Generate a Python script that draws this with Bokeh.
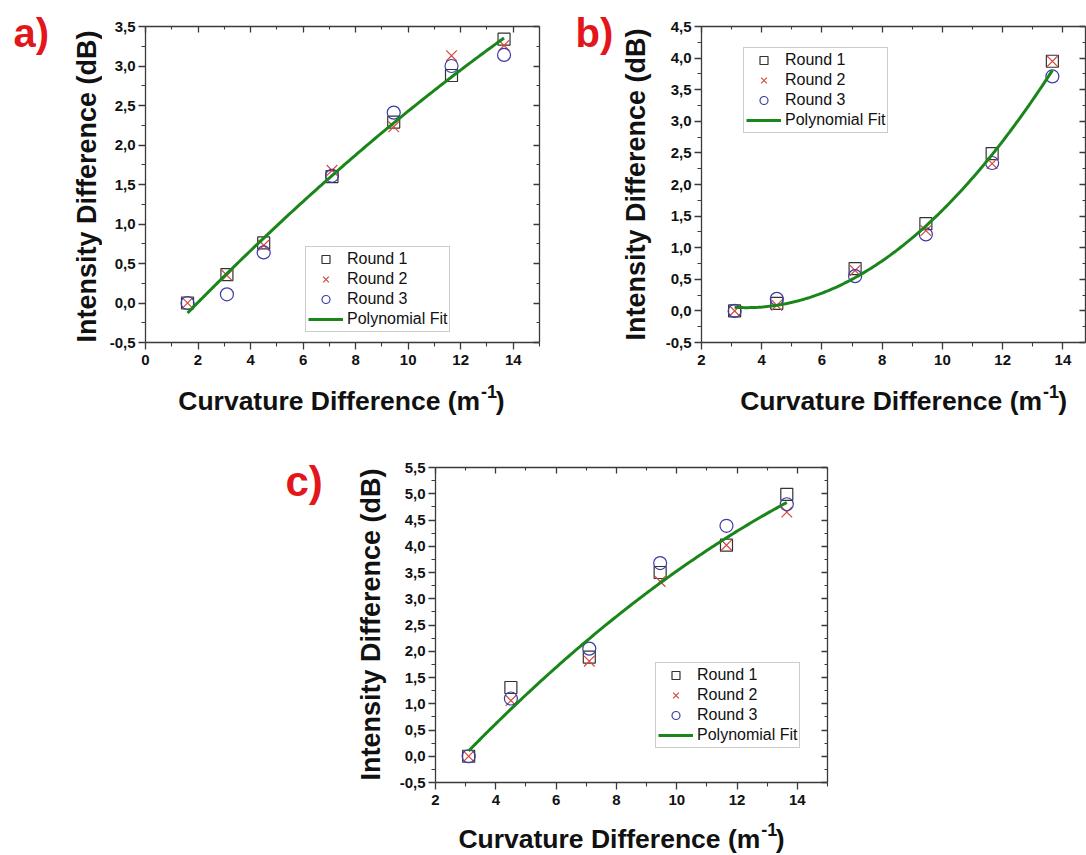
import numpy as np
from bokeh.plotting import figure
from bokeh.models import FixedTicker, LinearAxis, Label, Range1d, Spacer
from bokeh.layouts import column, row
from bokeh.embed import file_html
from bokeh.resources import INLINE

# ---------------- data ----------------
curv_a = [1.6, 3.1, 4.5, 7.1, 9.45, 11.65, 13.65]
a_round1 = [0.0, 0.36, 0.76, 1.60, 2.29, 2.88, 3.34]
a_round2 = [0.0, 0.35, 0.73, 1.68, 2.23, 3.13, 3.26]
a_round3 = [0.0, 0.11, 0.64, 1.61, 2.41, 3.00, 3.14]

curv_bc = [3.1, 4.5, 7.1, 9.45, 11.65, 13.65]
b_round1 = [0.0, 0.12, 0.67, 1.38, 2.49, 3.95]
b_round2 = [0.0, 0.09, 0.64, 1.27, 2.33, 3.95]
b_round3 = [0.0, 0.19, 0.55, 1.21, 2.34, 3.71]

c_round1 = [0.0, 1.31, 1.89, 3.50, 4.02, 4.99]
c_round2 = [0.0, 1.06, 1.81, 3.33, 4.02, 4.65]
c_round3 = [0.0, 1.10, 2.05, 3.68, 4.39, 4.80]

series_names = ["Round 1", "Round 2", "Round 3"]
fit_name = "Polynomial Fit"

xa_ticks = [0, 2, 4, 6, 8, 10, 12, 14]
xa_minor = [1, 3, 5, 7, 9, 11, 13, 15]
xbc_ticks = [2, 4, 6, 8, 10, 12, 14]
xbc_minor = [3, 5, 7, 9, 11, 13, 15]

ya_ticks = [-0.5, 0.0, 0.5, 1.0, 1.5, 2.0, 2.5, 3.0, 3.5]
ya_labels = ["-0,5", "0,0", "0,5", "1,0", "1,5", "2,0", "2,5", "3,0", "3,5"]
yb_ticks = [-0.5, 0.0, 0.5, 1.0, 1.5, 2.0, 2.5, 3.0, 3.5, 4.0, 4.5]
yb_labels = ["-0,5", "0,0", "0,5", "1,0", "1,5", "2,0", "2,5", "3,0", "3,5", "4,0", "4,5"]
yc_ticks = [-0.5, 0.0, 0.5, 1.0, 1.5, 2.0, 2.5, 3.0, 3.5, 4.0, 4.5, 5.0, 5.5]
yc_labels = ["-0,5", "0,0", "0,5", "1,0", "1,5", "2,0", "2,5", "3,0", "3,5", "4,0", "4,5", "5,0", "5,5"]

x_title = "Curvature Difference (m"
x_title_sup = "-1"
x_title_end = ")"
y_title = "Intensity Difference (dB)"
panel_letters = ["a)", "b)", "c)"]

FONT = "Liberation Sans"
TXT = "#111111"
SQ_COLOR = "#333333"
X_COLOR = "#d9473d"
CI_COLOR = "#3c3ca6"
FIT_COLOR = "#1a861a"
AX_COLOR = "#3a3a3a"
LETTER_COLOR = "#e3161b"
BASE_SHIFT = 0.35  # empirical baseline correction (fraction of font size)
TITLE_PX = 26.5


def style_axis(ax, outer):
    ax.axis_line_color = AX_COLOR
    ax.axis_line_width = 1.3
    ax.major_tick_line_color = AX_COLOR
    ax.minor_tick_line_color = AX_COLOR
    ax.major_tick_line_width = 1.3
    ax.minor_tick_line_width = 1.1
    if outer:
        ax.major_tick_out = 7
        ax.major_tick_in = 0
        ax.minor_tick_out = 4
        ax.minor_tick_in = 0
        ax.major_label_text_font = FONT
        ax.major_label_text_font_style = "bold"
        ax.major_label_text_font_size = "15px"
        ax.major_label_text_color = TXT
    else:
        ax.major_tick_out = 0
        ax.major_tick_in = 6
        ax.minor_tick_out = 0
        ax.minor_tick_in = 3
        ax.major_label_standoff = 0


def make_panel(xs, rounds, xr, yr, xt, xm, yt, yl, width, height, borders, legend_loc):
    bl, br, bt, bb = borders
    p = figure(width=width, height=height, x_range=Range1d(*xr), y_range=Range1d(*yr),
               output_backend="svg", toolbar_location=None,
               min_border_left=bl, min_border_right=br, min_border_top=bt,
               min_border_bottom=bb)
    p.xgrid.visible = False
    p.ygrid.visible = False
    p.outline_line_color = None
    p.background_fill_color = "white"
    p.border_fill_color = "white"

    ym = [v + 0.25 for v in yt]
    xax = p.xaxis[0]
    yax = p.yaxis[0]
    xax.ticker = FixedTicker(ticks=xt, minor_ticks=xm)
    yax.ticker = FixedTicker(ticks=yt, minor_ticks=ym)
    yax.major_label_overrides = {t: l for t, l in zip(yt, yl)}
    style_axis(xax, True)
    style_axis(yax, True)
    xax.major_label_standoff = 5
    yax.major_label_standoff = 3

    top = LinearAxis(ticker=FixedTicker(ticks=xt, minor_ticks=xm),
                     major_label_overrides={t: "" for t in xt})
    right = LinearAxis(ticker=FixedTicker(ticks=yt, minor_ticks=ym),
                       major_label_overrides={t: "" for t in yt})
    style_axis(top, False)
    style_axis(right, False)
    p.add_layout(top, "above")
    p.add_layout(right, "right")

    r1, r2, r3 = rounds
    p.scatter(xs, r1, marker="square", size=12, fill_color=None, line_color=SQ_COLOR,
              line_width=1.2, legend_label=series_names[0])
    p.scatter(xs, r2, marker="x", size=15, line_color=X_COLOR, line_width=1.2,
              legend_label=series_names[1])
    p.scatter(xs, r3, marker="circle", size=13, fill_color=None, line_color=CI_COLOR,
              line_width=1.2, legend_label=series_names[2])

    allx = np.tile(np.array(xs, dtype=float), 3)
    ally = np.concatenate([r1, r2, r3])
    coef = np.polyfit(allx, ally, 2)
    xx = np.linspace(xs[0], xs[-1], 150)
    p.line(xx, np.polyval(coef, xx), line_color=FIT_COLOR, line_width=3,
           legend_label=fit_name)

    lg = p.legend[0]
    lg.location = legend_loc
    lg.border_line_color = "#9a9a9a"
    lg.border_line_width = 1
    lg.background_fill_color = "white"
    lg.background_fill_alpha = 1
    lg.label_text_font = FONT
    lg.label_text_font_size = "16px"
    lg.label_text_color = TXT
    lg.padding = 2
    lg.margin = 0
    lg.spacing = 0
    lg.label_height = 20
    lg.glyph_height = 20
    lg.glyph_width = 35
    lg.label_standoff = 4
    return p


def text_fig(w, h):
    f = figure(width=w, height=h, x_range=Range1d(0, w), y_range=Range1d(h, 0),
               output_backend="svg", toolbar_location=None, min_border=0,
               x_axis_location=None, y_axis_location=None)
    f.outline_line_color = None
    f.xgrid.visible = False
    f.ygrid.visible = False
    f.background_fill_color = "white"
    f.border_fill_color = "white"
    return f


def side_fig(w, h, letter, lsize, lx, ly, tx, ty):
    f = text_fig(w, h)
    f.add_layout(Label(x=lx, y=ly - BASE_SHIFT * lsize, text=letter, text_font=FONT,
                       text_font_style="bold", text_font_size=f"{lsize}px",
                       text_color=LETTER_COLOR, text_align="left",
                       text_baseline="alphabetic"))
    f.add_layout(Label(x=tx, y=ty, text=y_title, angle=np.pi / 2, text_font=FONT,
                       text_font_style="bold", text_font_size="27px", text_color=TXT,
                       text_align="center", text_baseline="middle"))
    return f


def xtitle_fig(w, h, xm_, base):
    f = text_fig(w, h)
    f.add_layout(Label(x=xm_, y=base - BASE_SHIFT * TITLE_PX, text=x_title, text_font=FONT,
                       text_font_style="bold", text_font_size=f"{TITLE_PX}px",
                       text_color=TXT, text_align="right", text_baseline="alphabetic"))
    f.add_layout(Label(x=xm_ + 1, y=base - 13 - BASE_SHIFT * 18, text=x_title_sup,
                       text_font=FONT, text_font_style="bold", text_font_size="18px",
                       text_color=TXT, text_align="left", text_baseline="alphabetic"))
    f.add_layout(Label(x=xm_ + 18, y=base - BASE_SHIFT * TITLE_PX, text=x_title_end,
                       text_font=FONT, text_font_style="bold",
                       text_font_size=f"{TITLE_PX}px", text_color=TXT,
                       text_align="left", text_baseline="alphabetic"))
    return f


# panel a
ta = side_fig(102, 430, panel_letters[0], 40, 13, 46, 86, 186)
pa = make_panel(curv_a, (a_round1, a_round2, a_round3), (0, 15), (-0.5, 3.5),
                xa_ticks, xa_minor, ya_ticks, ya_labels,
                width=458, height=375, borders=(43, 21, 26, 33), legend_loc=(160, 10))
xa = xtitle_fig(458, 55, 389, 35)

# panel b
tb = side_fig(102, 430, panel_letters[1], 40, 15, 46, 75, 184)
pb = make_panel(curv_bc, (b_round1, b_round2, b_round3), (2, 14.75), (-0.5, 4.5),
                xbc_ticks, xbc_minor, yb_ticks, yb_labels,
                width=424, height=375, borders=(38, 1, 26, 33), legend_loc=(42, 209))
xb = xtitle_fig(424, 55, 376, 35)

# panel c
tc = side_fig(126, 425, panel_letters[2], 42, 15, 66, 100, 194)
pc = make_panel(curv_bc, (c_round1, c_round2, c_round3), (2, 15), (-0.5, 5.5),
                xbc_ticks, xbc_minor, yc_ticks, yc_labels,
                width=461, height=385, borders=(37, 30, 37, 33), legend_loc=(220, 34))
xc = xtitle_fig(461, 40, 382, 33)

top_row = row(ta, column(pa, xa), tb, column(pb, xb))
bottom_row = row(Spacer(width=270, height=425), tc, column(pc, xc))
layout = column(top_row, bottom_row)

open("out.html", "w").write(file_html(layout, INLINE))
